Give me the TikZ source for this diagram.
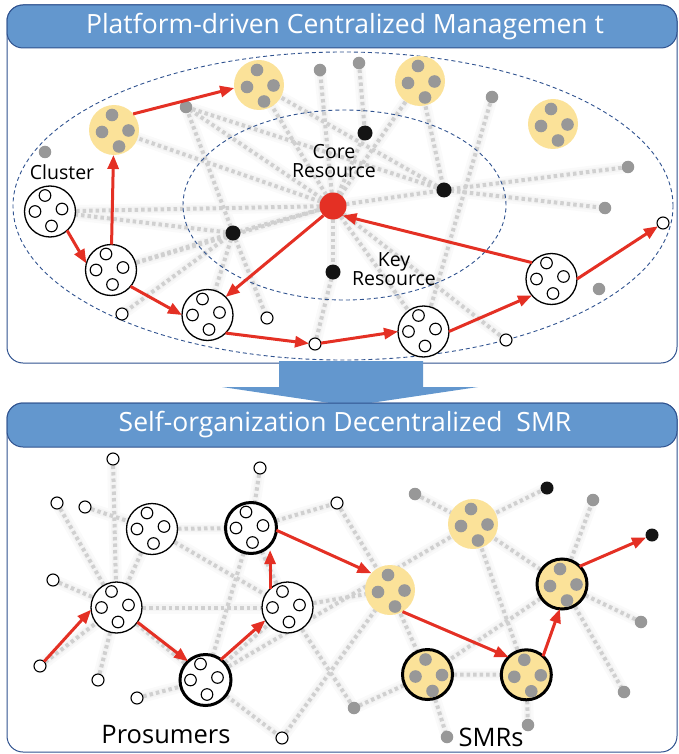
\documentclass[tikz,border=0pt]{standalone}
\usepackage{fontspec}
\setmainfont{Open Sans}
\usetikzlibrary{arrows.meta,calc}
\pgfdeclarelayer{bg}
\pgfsetlayers{bg,main}

\definecolor{hdrblue}{RGB}{99,151,206}
\definecolor{frameblue}{RGB}{47,82,143}
\definecolor{arrred}{RGB}{228,48,36}
\definecolor{clyellow}{RGB}{251,226,153}
\definecolor{dotgray}{RGB}{152,152,152}
\definecolor{linkgray}{RGB}{208,208,208}

\tikzset{
  every node/.style={inner sep=0pt, outer sep=0pt},
  wsmall/.style={circle, draw=black, fill=white, line width=1.1pt, minimum size=12pt},
  gdot/.style={circle, fill=dotgray, minimum size=12.5pt},
  kdot/.style={circle, fill=black!92, minimum size=15pt},
  kdotsm/.style={circle, fill=black!92, minimum size=13pt},
  coredot/.style={circle, fill=arrred, minimum size=27pt},
  wclus/.style={circle, draw=black, fill=white, line width=1.3pt, minimum size=51pt},
  yclus/.style={circle, fill=clyellow, minimum size=50pt},
  heavy/.style={draw=black, line width=3pt},
  wring/.style={draw=black, fill=white, line width=1.1pt},
  flow/.style={draw=arrred, line width=3pt, -{Triangle[length=14pt,width=11pt]}},
  hazeA/.style={line width=12pt, color=black!2},
  hazeB/.style={line width=7pt, color=black!4.5},
  link/.style={line width=4pt, color=linkgray, dash pattern=on 3.5pt off 3pt},
  zone/.style={draw=frameblue, line width=0.9pt, dash pattern=on 4pt off 3pt},
  panel/.style={draw=frameblue, line width=1pt, rounded corners=16pt},
  header/.style={draw=frameblue, fill=hdrblue, line width=1pt, rounded corners=16pt},
  hdrtext/.style={text=white, font=\fontsize{26.5}{30}\selectfont},
  lbl/.style={font=\fontsize{19.5}{18.5}\selectfont, align=center},
  biglbl/.style={font=\fontsize{25.5}{28}\selectfont}
}

% white cluster: outlined circle holding four small rings
\newcommand\wclust[3][]{%
  \node[wclus,#1] (#2) at (#3) {};
  \foreach \dx/\dy in {-5/-16,-15/0,12/-2.5,1.5/14.5}
    \draw[wring] ($(#2)+(\dx,\dy)$) circle[radius=5.8pt];}
% yellow cluster: filled circle holding four gray dots
\newcommand\yclust[3][]{%
  \node[yclus,#1] (#2) at (#3) {};
  \foreach \dx/\dy in {-2/-15,-12/2,14.5/0.5,5/16.5}
    \fill[dotgray] ($(#2)+(\dx,\dy)$) circle[radius=6.3pt];}

\begin{document}
\begin{tikzpicture}[x=1pt,y=-1pt]
\useasboundingbox (0,0) rectangle (679,754);

% ---------- frames ----------
\begin{pgfonlayer}{bg}
\draw[panel] (7,5) rectangle (677,363);
\draw[panel] (7,403) rectangle (677,752);
\fill[hdrblue] (279,361) -- (423,361) -- (423,387) -- (478,387) -- (350,406)
  -- (222,387) -- (279,387) -- cycle;
\draw[header] (7,5) rectangle (677,48);
\draw[header] (7,403) rectangle (677,447);
\end{pgfonlayer}
\node[hdrtext] (title1) at (345,27) {Platform-driven Centralized Managemen t};
\node[hdrtext] (title2) at (345,425) {Self-organization Decentralized~ SMR};

% ---------- centralized network ----------
\draw[zone] (343,206) ellipse [x radius=330pt, y radius=154pt];
\draw[zone] (344.5,205) ellipse [x radius=161.5pt, y radius=95pt];

\node[coredot] (core) at (333,206) {};
\node[kdot] (k365) at (365,133) {};
\node[kdot] (k444) at (444,190) {};
\node[kdot] (k233) at (233,233) {};
\node[kdot] (k333) at (333,272) {};

\node[gdot] (g43) at (45,152) {};
\node[gdot] (g186) at (186,107) {};
\node[gdot] (g320) at (320,70) {};
\node[gdot] (g359) at (359,63) {};
\node[gdot] (g492) at (492,97) {};
\node[gdot] (g628) at (628,167) {};
\node[gdot] (g605) at (605,208) {};
\node[gdot] (g599) at (599,289) {};

\yclust{y113}{114,130}
\yclust{y259}{259,85}
\yclust{y420}{420,81}
\yclust{y553}{553,124}

\wclust{c50}{50,211.5}
\wclust{c111}{111,270}
\wclust{c207}{207.5,315}
\wclust{c424}{423.5,331.5}
\wclust{c551}{551.5,279}

\node[wsmall] (w122) at (122,314) {};
\node[wsmall] (w267) at (267,318) {};
\node[wsmall] (w315) at (315,344) {};
\node[wsmall] (w505) at (506,340) {};
\node[wsmall] (w662) at (663,223) {};

\node[lbl] (lblcluster) at (62,172) {Cluster};
\node[lbl] (lblcore) at (334,161) {Core\\Resource};
\node[lbl] (lblkey) at (394,269) {Key\\Resource};

\draw[flow] (c50.-48) -- (c111.165);
\draw[flow] (c111) -- (y113);
\draw[flow] (y113.40) -- (y259.187);
\draw[flow] (c111.-40) -- (c207.180);
\draw[flow] (c207.-45) -- (w315.175);
\draw[flow] (w315) -- (c424.180);
\draw[flow] (c424.0) -- (c551.220);
\draw[flow] (c551.0) -- (w662);
\draw[flow] (c551.140) -- (core.-45);
\draw[flow] (core.225) -- (c207.45);

% ---------- decentralized network ----------
\node[wsmall] (w113) at (113,459) {};
\node[wsmall] (w57) at (57,503) {};
\node[wsmall] (w85) at (85,507) {};
\node[wsmall] (w260) at (260,468) {};
\node[wsmall] (w336) at (337,503) {};
\node[wsmall] (w53) at (53,580) {};
\node[wsmall] (w40) at (40,666) {};
\node[wsmall] (w99) at (98,680) {};
\node[wsmall] (w138) at (137,698) {};
\node[wsmall] (w282) at (282,738) {};

\node[gdot] (g415) at (415,494) {};
\node[gdot] (g593) at (593,500) {};
\node[gdot] (g641) at (641,622) {};
\node[gdot] (g624) at (624,692) {};
\node[gdot] (g528) at (528,725) {};
\node[gdot] (g446) at (447,737) {};
\node[gdot] (g353) at (354,708) {};
\node[kdotsm] (k547) at (547,488) {};
\node[kdotsm] (k652) at (652,535) {};

\wclust{c152}{152,529}
\wclust[heavy]{t250}{251,528}
\wclust{c118}{116.5,607.5}
\wclust[heavy]{t205}{205.5,680}
\wclust{c287}{287.5,607.5}

\yclust{y473}{473,524}
\yclust{y390}{390,590}
\yclust[heavy]{ty427}{427.5,674.5}
\yclust[heavy]{ty526}{526.3,674.8}
\yclust[heavy]{ty562}{562,584}

\node[biglbl] (lblpros) at (166,735) {Prosumers};
\node[biglbl] (lblsmr) at (491,737) {SMRs};

\draw[flow] (w40) -- (c118.185);
\draw[flow] (c118.-35) -- (t205.133);
\draw[flow] (t205.53) -- (c287.210);
\draw[flow] (c287.133) -- (c287.133 |- t250.-60);
\draw[flow] (t250.-5) -- (y390.138);
\draw[flow] (y390.-60) -- (ty526.135);
\draw[flow] (ty526.48) -- (ty562.265);
\draw[flow] (ty562.45) -- (k652);

% ---------- faint dotted links ----------
\def\links{core/c50, core/c111, core/y113, core/g186, core/y259, core/g320,
  core/k365, g359/k365, core/y420, y420/k444, g492/c424, core/k444,
  k444/g628, k444/g605, core/w505, core/c424, core/k333, k333/w315,
  k233/core, k233/c50, k233/c111, k233/w122, k233/w267, k233/c207,
  k233/g186, g186/k444, y259/k444,
  w113/c118, w57/c118, w85/c152, w260/t250, c152/t250, t250/w336,
  c152/c118, w53/c118, c118/c287, w99/c118, w40/c118, w138/t205,
  t205/w282, c152/c287, t250/t205, c287/y390, c287/g353, w282/y390,
  w336/y390, g415/y473, y473/k547, y473/ty562, y473/t205, y473/ty526,
  y390/ty427, ty427/g446, ty427/g353, ty427/ty526, ty526/g528,
  ty562/g593, ty562/g641, ty562/g624, ty562/ty427, c118/t205,
  t205/c287, c287/t250}
\begin{pgfonlayer}{bg}
\foreach \a/\b in \links {\draw[hazeA] (\a.center) -- (\b.center);}
\foreach \a/\b in \links {\draw[hazeB] (\a.center) -- (\b.center);}
\foreach \a/\b in \links {\draw[link] (\a.center) -- (\b.center);}
\end{pgfonlayer}
\end{tikzpicture}
\end{document}
